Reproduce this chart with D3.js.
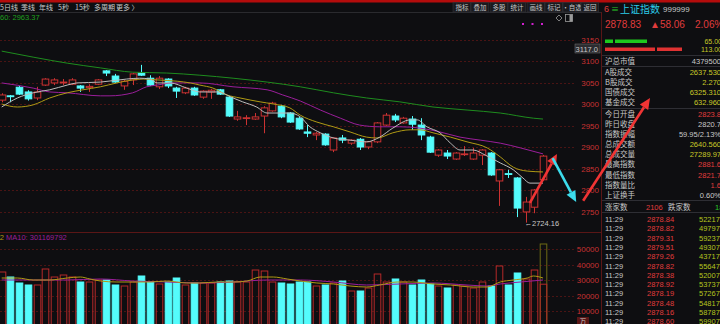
<!DOCTYPE html>
<html>
<head>
<meta charset="utf-8">
<script src="https://cdn.jsdelivr.net/npm/d3@7"></script>
<style>
body{margin:0;background:#0e0e11;overflow:hidden}
svg{display:block;font-family:"Noto Sans CJK SC","Noto Sans",sans-serif}
</style>
</head>
<body>
<script>
// daily K-line data (index points)
var opens  = [3009,3019,3039,3028,3014,3044,3049,3050,3046,3042,3038,3046,3077,3065,3042,3056,3072,3060,3040,3058,3037,3026,3037,3016,3028,3033,3016,2965,2967,2965,2972,2984,2995,2979,2967,2935,2928,2930,2893,2921,2909,2918,2900,2912,2951,2972,2956,2965,2951,2923,2881,2886,2872,2883,2872,2881,2886,2821,2838,2828,2749,2760,2823.8];
var closes = [3021,3017,3023,3012,3028,3058,3056,3051,3056,3037,3041,3056,3072,3051,3053,3070,3067,3044,3060,3042,3030,3037,3021,3030,3032,3023,2972,2970,2968,2970,2991,3002,2970,2958,2942,2932,2932,2905,2921,2916,2916,2900,2912,2956,2974,2963,2967,2953,2928,2888,2893,2879,2886,2884,2886,2893,2835,2847,2837,2758,2772,2800,2878.83];
var highs  = [3025,3021,3042,3032,3040,3060,3060,3058,3060,3044,3046,3058,3079,3070,3056,3072,3091,3067,3065,3060,3040,3040,3040,3032,3035,3035,3019,2984,2974,2979,2995,3005,2998,2981,2970,2951,2935,2932,2923,2928,2918,2921,2914,2958,2979,2977,2970,2972,2967,2926,2895,2893,2888,2902,2898,2895,2888,2849,2847,2830,2784,2802,2881.6];
var lows   = [3004,3004,3021,3008,3009,3042,3044,3044,3044,3028,3028,3044,3065,3049,3033,3044,3065,3042,3035,3037,3014,3023,3019,3012,3012,3021,2970,2961,2951,2963,2932,2982,2967,2956,2940,2923,2916,2903,2888,2909,2905,2893,2895,2909,2949,2958,2954,2940,2916,2886,2877,2872,2870,2879,2870,2858,2833,2763,2828,2737,2724.16,2746,2821.7];
// volume (万手)
var volumes = [35160,31935,28065,26774,26774,37100,31935,33225,31935,28710,28710,30000,30000,26774,26130,28710,32580,28710,27420,28710,31290,26774,28065,28065,28065,28710,29350,28710,28710,36450,35800,28710,28065,27420,28710,28710,26130,26774,28065,29350,22900,22900,24840,33870,28710,30650,28710,26774,30000,27420,26130,24840,26774,26130,24840,28710,26130,39030,26774,34520,30650,36450,27290];
var projectedVolume = 53225;

// moving averages: [day index, value]
var ma5  = [[0,2993],[1.8,3014],[3.6,3026],[5.5,3033],[7.5,3044],[8.6,3049],[11.3,3051],[14.3,3058],[15.8,3060],[17,3058],[17.8,3049],[19.3,3049],[21.2,3037],[22.7,3028],[24.7,3028],[26.5,3014],[27.6,3005],[29.2,2993],[30.4,2979],[33,2979],[34.2,2970],[35.3,2947],[36.5,2933],[38,2921],[39.9,2916],[41.8,2912],[43.3,2923],[44.8,2944],[46.8,2963],[47.6,2963],[48.7,2947],[50.2,2933],[51.4,2909],[52.5,2893],[54,2893],[55.4,2881],[57.1,2863],[58.6,2847],[59.7,2828],[60.5,2816],[62,2816]];
var ma10 = [[0,3000],[1.8,2993],[3.6,2998],[5.5,3014],[7.5,3026],[9.3,3033],[11.3,3040],[13.2,3049],[15,3056],[16.2,3058],[17.8,3056],[20.1,3053],[21.6,3049],[22.7,3044],[24.2,3037],[25.8,3021],[27.3,3014],[29.6,3005],[31.1,3000],[33,2991],[34.2,2974],[36.1,2958],[38,2947],[39.9,2935],[41.8,2923],[43,2921],[44.8,2933],[46.8,2940],[47.9,2940],[49.4,2933],[51.4,2923],[53.3,2912],[55.6,2898],[57.1,2877],[58.6,2853],[60.2,2844],[62,2842]];
var ma20 = [[0,3049],[3.6,3037],[5.5,3028],[7.5,3026],[11.3,3019],[12.4,3019],[15,3026],[16.6,3040],[17.8,3044],[19.6,3049],[22.7,3049],[26.5,3040],[30.4,3033],[32.2,3021],[34.2,3007],[36.5,2986],[38.8,2967],[41,2951],[43.3,2947],[45.6,2947],[47.9,2944],[50.2,2935],[52.5,2923],[54.8,2916],[57.1,2909],[59.4,2898],[62,2884]];
var ma60 = [[0,3123],[3.6,3109],[7.5,3095],[11.3,3084],[15,3074],[18.9,3072],[22.7,3067],[26.5,3060],[30.4,3051],[34.2,3040],[38,3026],[41.8,3014],[45.6,3005],[49.4,2993],[53.3,2986],[57.1,2979],[60.9,2967],[62,2965]];
var volMa5  = [[0,31290],[1.8,31290],[3.6,30000],[5.5,30000],[7.5,31290],[9,31935],[10.1,30650],[11.3,29350],[13.2,28710],[15,28710],[17,28710],[18.9,29350],[21.2,28065],[22.7,28065],[24.7,28710],[26.5,28710],[28.1,29350],[29.6,31935],[31.1,31935],[32.7,30650],[34.2,29350],[36.1,28065],[38,27420],[39.9,26130],[41.8,25480],[43.3,26774],[45.3,28710],[47.1,28710],[49.4,27420],[51.4,26774],[54,25480],[55.6,25480],[57.1,28710],[58.6,30000],[60.2,31290],[60.9,32580],[62,31290]];
var volMa10 = [[0,30000],[3.6,30000],[7.5,30000],[11.3,30650],[15,29350],[18.9,28710],[22.7,28065],[26.5,28710],[30.4,30000],[34.2,30000],[38,28710],[41.8,26774],[45.6,27420],[49.4,28065],[53.3,26774],[55.6,26130],[57.1,27420],[59.4,28710],[62,30000]];

var priceTicks = [3150,3100,3050,3000,2950,2900,2850,2800,2750];
var volTicks = [50000,40000,30000,20000,10000];

var toolLeft = ["5日线","季线","年线","5秒","15秒","多周期","更多 〉"];
var toolRight = ["指标","叠加","多股","统计","画线","标记","·自选","返回"];

var statLabels = ["沪总市值","A股成交","B股成交","国债成交","基金成交","今日开盘","昨日收盘","指数振幅","总成交额","总成交量","最高指数","最低指数","指数量比","上证换手"];
var statValues = ["4379500","2637.530","2.270","6325.310","632.960","2823.8","2820.7","59.95/2.13%","2640.560","27289.97","2881.6","2821.7","1.6","0.60%"];
var statKinds  = ["w","y","y","y","y","r","w","w","y","y","r","r","r","w"];

var tickTimes  = ["11:29","11:29","11:29","11:29","11:29","11:29","11:29","11:29","11:29","11:29","11:29","11:29"];
var tickPrices = ["2878.84","2878.82","2879.31","2879.51","2879.26","2878.82","2878.38","2878.92","2878.19","2878.48","2878.16","2878.60"];
var tickVols   = ["52217","49797","59237","49307","43717","55647","52007","53737","57267","54817","58787","59907"];

var BG = "#0e0e11", RED = "#cc3232", CYAN = "#54fcfc", GRID = "#4a1414",
    AXT = "#c83232", GRAY = "#c8c8c8", YEL = "#c8c828", GRN = "#28c828";
var kindColor = {w: GRAY, y: YEL, r: "#e03c3c"};
var NUMF = "'Liberation Sans','Noto Sans',sans-serif";

var svg = d3.select("body").append("svg").attr("width", 720).attr("height", 324);
svg.append("rect").attr("width", 720).attr("height", 324).attr("fill", BG);

var defs = svg.append("defs");
defs.append("clipPath").attr("id", "cMain").append("rect")
    .attr("x", 0).attr("y", 13).attr("width", 575).attr("height", 219);
defs.append("clipPath").attr("id", "cVol").append("rect")
    .attr("x", 0).attr("y", 233).attr("width", 575).attr("height", 91);
defs.append("clipPath").attr("id", "cPanel").append("rect")
    .attr("x", 602).attr("y", 0).attr("width", 118).attr("height", 324);

var x = d3.scaleLinear().domain([0, 62]).range([1.7, 543]);
var y = d3.scaleLinear().domain([2750, 3150]).range([211.5, 39.5]);
var yv = d3.scaleLinear().domain([10000, 50000]).range([311, 249]);
var bw = 6.6;

function txt(g, px, py, s, fill, size, anchor) {
    return g.append("text").attr("x", px).attr("y", py).attr("fill", fill)
        .attr("font-size", size).attr("text-anchor", anchor || "start").text(s);
}

// top bar and toolbar
svg.append("rect").attr("x", 0).attr("y", 0).attr("width", 720).attr("height", 2.5).attr("fill", "#b40c0c");
svg.append("line").attr("x1", 0).attr("x2", 602).attr("y1", 12.5).attr("y2", 12.5).attr("stroke", "#2a2a2e");
var tlx = [0, 21, 39, 58, 75, 94, 116];
toolLeft.forEach(function(s, i) { txt(svg, tlx[i], 10, s, GRAY, 7); });
var trx = [453, 471, 490, 508, 527, 545, 563, 581];
toolRight.forEach(function(s, i) {
    svg.append("rect").attr("x", trx[i]).attr("y", 2.5).attr("width", 17.5).attr("height", 9.5)
        .attr("fill", "#1a1a1e").attr("stroke", "#34343a").attr("stroke-width", 0.6);
    txt(svg, trx[i] + 9, 10, s, GRAY, 6.5, "middle");
});
txt(svg, 0, 20, "60: 2963.37", "#1ea01e", 7.5).attr("font-family", NUMF);
[523, 532.5, 542].forEach(function(d) {
    svg.append("rect").attr("x", d - 1).attr("y", 23).attr("width", 2).attr("height", 2).attr("fill", "#d020d0");
});
svg.append("path").attr("d", "M559,15 L562,18 L559,21 L556,18 Z").attr("fill", "none").attr("stroke", "#9a9a9a").attr("stroke-width", 0.8);
svg.append("rect").attr("x", 565.5).attr("y", 14.5).attr("width", 7).attr("height", 7).attr("fill", "none").attr("stroke", "#9a9a9a").attr("stroke-width", 0.8);
svg.append("rect").attr("x", 569.5).attr("y", 14.5).attr("width", 3).attr("height", 7).attr("fill", "#9a9a9a");

// grid lines
svg.append("g").selectAll("line").data(priceTicks).join("line")
    .attr("x1", 0).attr("x2", 575).attr("y1", function(d) { return Math.round(y(d)) + 0.5; })
    .attr("y2", function(d) { return Math.round(y(d)) + 0.5; })
    .attr("stroke", GRID).attr("stroke-dasharray", "2,2");
svg.append("g").selectAll("line").data(volTicks).join("line")
    .attr("x1", 0).attr("x2", 575).attr("y1", function(d) { return Math.round(yv(d)) + 0.5; })
    .attr("y2", function(d) { return Math.round(yv(d)) + 0.5; })
    .attr("stroke", GRID).attr("stroke-dasharray", "2,2");
svg.append("line").attr("x1", 0).attr("x2", 602).attr("y1", 232.5).attr("y2", 232.5).attr("stroke", "#5a1616");
svg.append("line").attr("x1", 601.5).attr("x2", 601.5).attr("y1", 12).attr("y2", 324).attr("stroke", "#5a1616");

// axes
function styleAxis(g) {
    g.select(".domain").remove();
    g.selectAll("text").attr("fill", AXT).attr("font-size", 8).attr("font-family", NUMF);
}
svg.append("g").attr("transform", "translate(600,0)")
    .call(d3.axisLeft(y).tickValues(priceTicks).tickSize(0).tickPadding(1).tickFormat(d3.format("d")))
    .call(styleAxis);
svg.append("g").attr("transform", "translate(600,0)")
    .call(d3.axisLeft(yv).tickValues(volTicks).tickSize(0).tickPadding(1).tickFormat(d3.format("d")))
    .call(styleAxis);
svg.append("rect").attr("x", 575).attr("y", 44).attr("width", 25).attr("height", 9)
    .attr("fill", "#2c2c30").attr("stroke", "#6a6a6a").attr("stroke-width", 0.6);
txt(svg, 598, 51.5, "3117.0", GRAY, 7.5, "end").attr("font-family", NUMF);
svg.append("rect").attr("x", 577).attr("y", 317).attr("width", 12).attr("height", 8).attr("fill", "#5a1616");
txt(svg, 583, 323.5, "万", GRAY, 6.5, "middle");

// candles
var idx = d3.range(opens.length);
var main = svg.append("g").attr("clip-path", "url(#cMain)");
function cx(i) { return Math.round(x(i)) + 0.5; }
main.selectAll("line.wick").data(idx).join("line").attr("class", "wick")
    .attr("x1", cx).attr("x2", cx)
    .attr("y1", function(i) { return y(highs[i]); }).attr("y2", function(i) { return y(lows[i]); })
    .attr("stroke", function(i) { return closes[i] >= opens[i] ? RED : CYAN; });
main.selectAll("rect.body").data(idx).join("rect").attr("class", "body")
    .attr("x", function(i) { return cx(i) - bw / 2; })
    .attr("width", bw)
    .attr("y", function(i) { return y(Math.max(opens[i], closes[i])); })
    .attr("height", function(i) { return Math.max(0.8, Math.abs(y(opens[i]) - y(closes[i]))); })
    .attr("fill", function(i) { return closes[i] >= opens[i] ? BG : CYAN; })
    .attr("stroke", function(i) { return closes[i] >= opens[i] ? RED : CYAN; })
    .attr("stroke-width", 1);

// moving averages
var maLine = d3.line().x(function(d) { return x(d[0]); }).y(function(d) { return y(d[1]); }).curve(d3.curveMonotoneX);
[[ma60, "#1e8c1e"], [ma20, "#9a1e9a"], [ma10, "#b09a14"], [ma5, "#bdbdbd"]].forEach(function(m) {
    main.append("path").attr("d", maLine(m[0])).attr("fill", "none").attr("stroke", m[1]).attr("stroke-width", 1);
});

// low marker
var lowI = lows.indexOf(d3.min(lows));
txt(main, x(lowI) - 1, y(lows[lowI]) + 3, "←" + d3.format(".2f")(lows[lowI]), GRAY, 7.5).attr("font-family", NUMF);

// volume
var vol = svg.append("g").attr("clip-path", "url(#cVol)");
var v0 = yv(0);
vol.append("rect").attr("x", cx(62) - bw / 2).attr("width", bw)
    .attr("y", yv(projectedVolume)).attr("height", v0 - yv(projectedVolume))
    .attr("fill", "none").attr("stroke", "#6e6a14");
vol.selectAll("rect.vb").data(idx).join("rect").attr("class", "vb")
    .attr("x", function(i) { return cx(i) - bw / 2; }).attr("width", bw)
    .attr("y", function(i) { return yv(volumes[i]); })
    .attr("height", function(i) { return v0 - yv(volumes[i]); })
    .attr("fill", function(i) { return closes[i] >= opens[i] ? "none" : CYAN; })
    .attr("stroke", function(i) { return closes[i] >= opens[i] ? "#b42828" : CYAN; });
var vLine = d3.line().x(function(d) { return x(d[0]); }).y(function(d) { return yv(d[1]); }).curve(d3.curveMonotoneX);
vol.append("path").attr("d", vLine(volMa10)).attr("fill", "none").attr("stroke", "#9a1e9a");
vol.append("path").attr("d", vLine(volMa5)).attr("fill", "none").attr("stroke", "#b09a14");
txt(svg, 4, 240, "2", "#b09a14", 7.5, "end").attr("font-family", NUMF);
txt(svg, 6, 240, "MA10: 301169792", "#9a1e9a", 7.5).attr("font-family", NUMF);

// annotation arrows
function arrow(x1, y1, x2, y2, col) {
    var a = Math.atan2(y2 - y1, x2 - x1), L = 11, Wd = 5;
    var bx = x2 - L * Math.cos(a), by = y2 - L * Math.sin(a);
    svg.append("line").attr("x1", x1).attr("y1", y1).attr("x2", bx).attr("y2", by)
        .attr("stroke", col).attr("stroke-width", 2.6);
    svg.append("path").attr("d", "M" + x2 + "," + y2 + "L" + (bx + Wd * Math.sin(a)) + "," + (by - Wd * Math.cos(a)) +
        "L" + (bx - Wd * Math.sin(a)) + "," + (by + Wd * Math.cos(a)) + "Z").attr("fill", col);
}

// right panel
var panel = svg.append("g").attr("clip-path", "url(#cPanel)");
txt(panel, 604, 12, "6", "#e03c3c", 9).attr("font-family", NUMF);
txt(panel, 611, 12, "≡", GRN, 8);
txt(panel, 620, 13, "上证指数", "#2ccbe8", 10);
txt(panel, 663, 12, "999999", GRAY, 8).attr("font-family", NUMF);
txt(panel, 605, 28, "2878.83", "#e03c3c", 10).attr("font-family", NUMF);
txt(panel, 650, 28, "▲58.06", "#e03c3c", 10).attr("font-family", NUMF);
txt(panel, 695, 28, "2.06%", "#e03c3c", 10).attr("font-family", NUMF);
panel.append("rect").attr("x", 605).attr("y", 39.5).attr("width", 8).attr("height", 3.5).attr("fill", "#1ec81e");
panel.append("rect").attr("x", 615).attr("y", 39.5).attr("width", 32).attr("height", 3.5).attr("fill", "#1ec81e");
panel.append("rect").attr("x", 605).attr("y", 47.5).attr("width", 50).attr("height", 3.5).attr("fill", "#e03232");
panel.append("rect").attr("x", 657).attr("y", 47.5).attr("width", 25).attr("height", 3.5).attr("fill", "#e03232");
txt(panel, 722, 44, "65.00", YEL, 7, "end").attr("font-family", NUMF);
txt(panel, 722, 52, "113.00", YEL, 7, "end").attr("font-family", NUMF);
[55.5, 66.5, 108.5, 200.5, 212.5].forEach(function(d) {
    panel.append("line").attr("x1", 602).attr("x2", 720).attr("y1", d).attr("y2", d).attr("stroke", "#2e2e34");
});
var statY = [63.5, 74.5, 84.5, 94.5, 104.5, 117, 127, 137, 147, 157, 167, 177.5, 187.5, 197.5];
statLabels.forEach(function(s, i) {
    txt(panel, 605, statY[i], s, GRAY, 7.5);
    txt(panel, 721, statY[i], statValues[i], kindColor[statKinds[i]], 7.5, "end").attr("font-family", NUMF);
});
txt(panel, 605, 209.5, "涨家数", GRAY, 7.5);
txt(panel, 646, 209.5, "2106", "#e03c3c", 7.5).attr("font-family", NUMF);
txt(panel, 668, 209.5, "跌家数", GRAY, 7.5);
txt(panel, 715, 209.5, "18", GRN, 7.5).attr("font-family", NUMF);
tickTimes.forEach(function(s, i) {
    var ty = 222 + i * 9.3;
    txt(panel, 605, ty, s, GRAY, 7.5).attr("font-family", NUMF);
    txt(panel, 647, ty, tickPrices[i], "#e03c3c", 7.5).attr("font-family", NUMF);
    txt(panel, 699, ty, tickVols[i], "#b4c41e", 7.5).attr("font-family", NUMF);
});

// arrows drawn last so they sit on top
arrow(x(60.5), y(2770), x(63.6), y(2884), "#f03434");
arrow(x(66.6), y(2775), 650, y(3014), "#f03434");
arrow(x(63.1), y(2874), x(65.8), y(2772), "#3cdcec");
</script>
</body>
</html>
